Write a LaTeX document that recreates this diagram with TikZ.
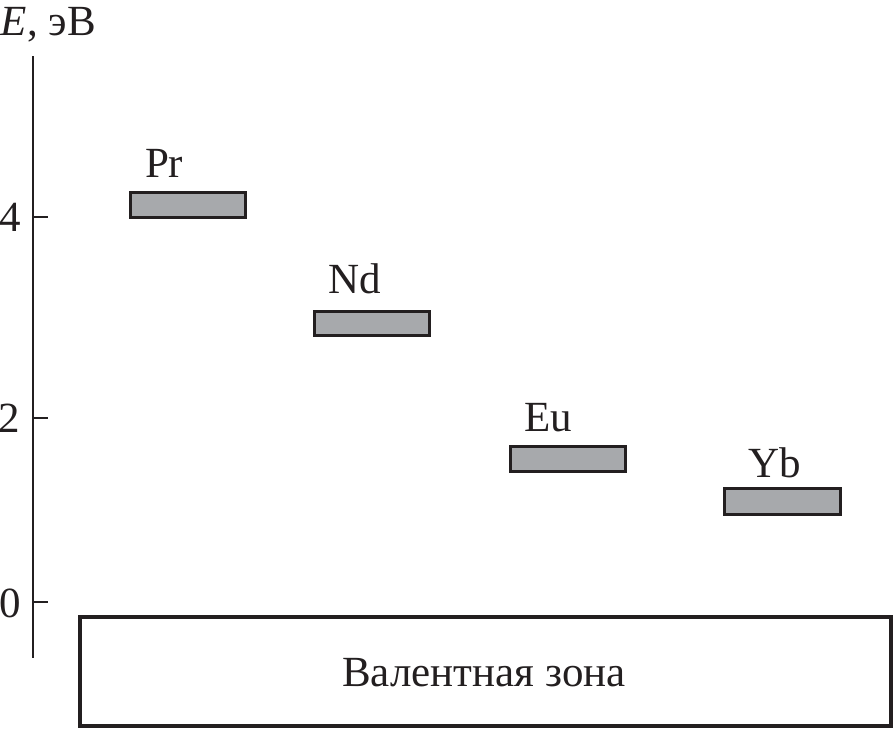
\documentclass[tikz,border=0pt]{standalone}
\usepackage{fontspec}
\setmainfont{Liberation Serif}
\definecolor{ink}{HTML}{231F20}
\definecolor{lvl}{HTML}{A7A9AC}
\begin{document}
\begin{tikzpicture}[x=1pt,y=-1pt,
  txt/.style={inner sep=0pt,outer sep=0pt,text=ink,font=\fontsize{43}{50}\selectfont},
  lvlbox/.style={draw=ink,line width=3pt,fill=lvl,minimum width=115pt,minimum height=25pt,inner sep=0pt,outer sep=0pt},
  axisline/.style={draw=ink,line width=2pt}]
\useasboundingbox (0,0) rectangle (895,731);
% axis
\coordinate (atop) at (33,56);
\coordinate (abot) at (33,658);
\draw[axisline] (atop) -- (abot);
\foreach \yy/\nm in {217/t4,418/t2,602/t0}{
  \coordinate (\nm a) at (33,\yy);
  \coordinate (\nm b) at (48,\yy);
  \draw[axisline] (\nm a) -- (\nm b);
}
\node[txt,anchor=east] (l4) at (21,217) {4};
\node[txt,anchor=east] (l2) at (20,418) {2};
\node[txt,anchor=east] (l0) at (21,603) {0};
\node[txt,anchor=base west] (ylab) at (1,35) {\textit{E}, эВ};
% levels
\node[lvlbox] (pr) at (188,205) {};
\node[lvlbox,minimum height=24pt] (nd) at (372,323.5) {};
\node[lvlbox] (eu) at (568,459) {};
\node[lvlbox,minimum width=116pt,minimum height=26pt] (yb) at (782.5,501.5) {};
\node[txt,anchor=base west] (prl) at (145,177) {Pr};
\node[txt,anchor=base west] (ndl) at (328,293) {Nd};
\node[txt,anchor=base west] (eul) at (524,431) {Eu};
\node[txt,anchor=base west] (ybl) at (748,477) {Yb};
% valence band
\node[draw=ink,line width=4pt,minimum width=811pt,minimum height=109pt,inner sep=0pt,outer sep=0pt] (vb) at (485.5,671.5) {};
\node[txt,anchor=base] (vbl) at (484,686) {Валентная зона};
\end{tikzpicture}
\end{document}
